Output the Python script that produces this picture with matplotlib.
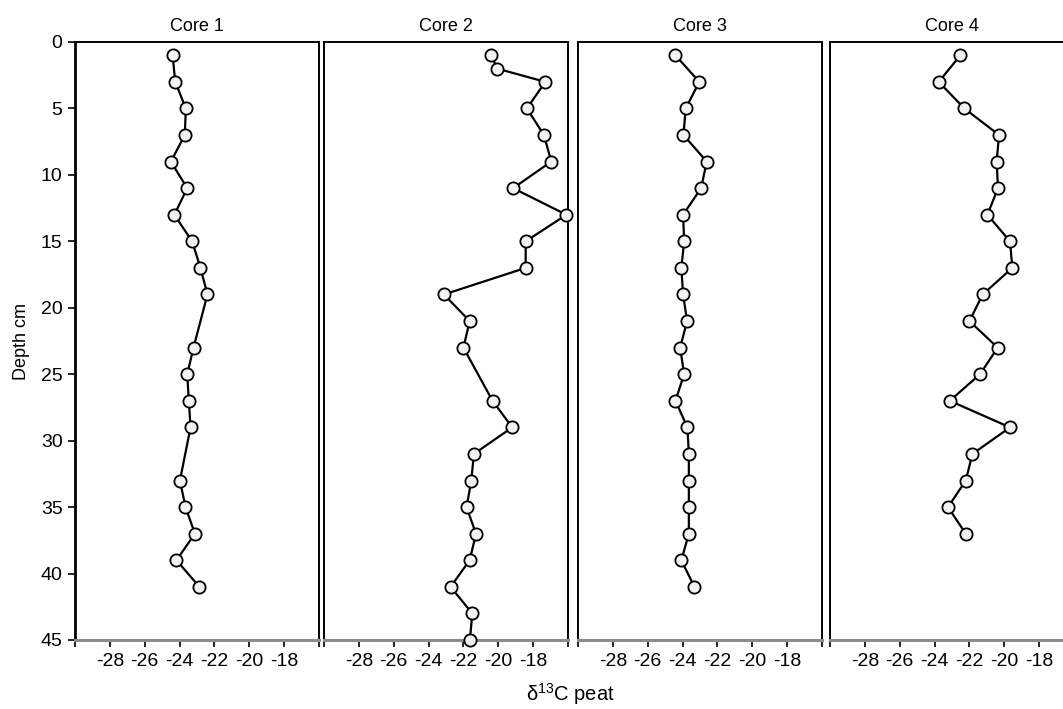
import matplotlib.pyplot as plt

plt.rcParams["font.family"] = ["Liberation Sans", "DejaVu Sans"]
plt.rcParams["font.size"] = 13
plt.rcParams["mathtext.fontset"] = "custom"
plt.rcParams["mathtext.rm"] = "Liberation Sans"

# data: depth (cm) and d13C value per core
core1_depth = [1, 3, 5, 7, 9, 11, 13, 15, 17, 19, 23, 25, 27, 29, 33, 35, 37, 39, 41]
core1_d13c = [-24.4, -24.25, -23.64, -23.7, -24.5, -23.56, -24.3, -23.28, -22.8, -22.4,
              -23.2, -23.56, -23.47, -23.37, -23.98, -23.66, -23.12, -24.18, -22.86]

core2_depth = [1, 2, 3, 5, 7, 9, 11, 13, 15, 17, 19, 21, 23, 27, 29, 31, 33, 35, 37, 39, 41, 43, 45]
core2_d13c = [-20.4, -20.07, -17.3, -18.36, -17.38, -16.96, -19.15, -16.09, -18.43, -18.43,
              -23.12, -21.64, -22.0, -20.33, -19.2, -21.4, -21.55, -21.82, -21.28, -21.64,
              -22.74, -21.49, -21.63]

core3_depth = [1, 3, 5, 7, 9, 11, 13, 15, 17, 19, 21, 23, 25, 27, 29, 31, 33, 35, 37, 39, 41]
core3_d13c = [-24.41, -23.04, -23.82, -23.95, -22.61, -22.94, -23.97, -23.91, -24.07, -23.97,
              -23.74, -24.14, -23.91, -24.41, -23.72, -23.64, -23.64, -23.64, -23.64, -24.07,
              -23.32]

core4_depth = [1, 3, 5, 7, 9, 11, 13, 15, 17, 19, 21, 23, 25, 27, 29, 31, 33, 35, 37]
core4_d13c = [-22.52, -23.76, -22.29, -20.30, -20.44, -20.36, -20.97, -19.67, -19.54, -21.24,
              -22.0, -20.38, -21.39, -23.13, -19.67, -21.83, -22.21, -23.23, -22.21]

core_names = ["Core 1", "Core 2", "Core 3", "Core 4"]
depths = [core1_depth, core2_depth, core3_depth, core4_depth]
values = [core1_d13c, core2_d13c, core3_d13c, core4_d13c]

x_ticks = list(range(-30, -15, 2))
x_labels = ["" if t in (-30, -16) else str(t) for t in x_ticks]
y_ticks = list(range(0, 46, 5))

W, H = 1063, 709
fig = plt.figure(figsize=(W / 100, H / 100), dpi=100)

lefts = [75, 324, 578, 830]
panel_w = 244
top, bottom = 42, 640

for i, (name, d, v) in enumerate(zip(core_names, depths, values)):
    ax = fig.add_axes([lefts[i] / W, 1 - bottom / H, panel_w / W, (bottom - top) / H])
    ax.plot(v, d, color="black", lw=1.6, marker="o", ms=8.8,
            mfc="#f2f2f2", mec="black", mew=1.3, clip_on=False, zorder=3)
    ax.set_xlim(-30, -16)
    ax.set_ylim(45, 0)
    ax.set_xticks(x_ticks)
    ax.set_xticklabels(x_labels)
    ax.set_yticks(y_ticks)
    ax.tick_params(direction="out", length=5, width=1.2, labelsize=14, pad=4)
    for s in ["top", "left", "right"]:
        ax.spines[s].set_linewidth(1.4)
        ax.spines[s].set_color("black")
    ax.spines["bottom"].set_color("#8c8c8c")
    ax.spines["bottom"].set_linewidth(2.2)
    if i == 0:
        ax.spines["left"].set_linewidth(2.0)
        ax.set_ylabel("Depth cm", fontsize=13, labelpad=8)
    else:
        ax.tick_params(axis="y", left=False, labelleft=False)
    ax.set_title(name, fontsize=13, pad=8)

fig.text(570 / W, 1 - 694 / H, r"δ$^{13}$C peat", ha="center", va="center", fontsize=14.5)

fig.savefig("out.png", dpi=100)
